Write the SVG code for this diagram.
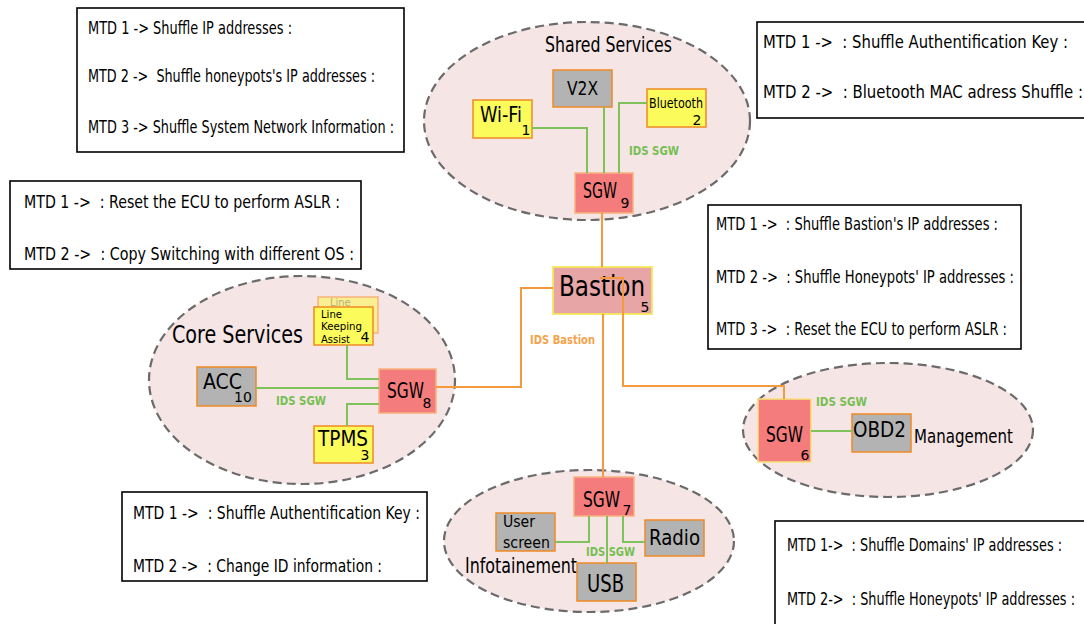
<svg xmlns="http://www.w3.org/2000/svg" width="1084" height="624" viewBox="0 0 1084 624" xml:space="preserve">
  <style>
    text { font-family: "DejaVu Sans Condensed", "DejaVu Sans", sans-serif; font-stretch: condensed; fill: #000; white-space: pre; }
    .zone { fill: #f5e5e5; stroke: #6b6b6b; stroke-width: 2.2; stroke-dasharray: 9 5; }
    .note { fill: #fff; stroke: #000; stroke-width: 1.6; }
    text.note-t { font-size: 17px; }
    .grey { fill: #b3b3b3; stroke: #f08a24; stroke-width: 1.5; }
    .yellow { fill: #fbfb5c; stroke: #f08a24; stroke-width: 1.5; }
    .sgw { fill: #f47c7c; stroke: #f7b27e; stroke-width: 1.5; }
    .sgw-y { fill: #f47c7c; stroke: #f7e27a; stroke-width: 1.5; }
    .bastion { fill: #e8a5a5; stroke: #f5e85a; stroke-width: 1.8; }
    .num { font-family: "DejaVu Sans", sans-serif; font-stretch: normal; font-size: 14px; text-anchor: middle; }
    .ids { font-size: 13px; font-weight: bold; fill: #76bf52; }
    .ids-b { font-size: 13px; font-weight: bold; fill: #f7a24a; }
    .link-g { fill: none; stroke: #7fc25b; stroke-width: 2; }
    .link-o { fill: none; stroke: #f59a3c; stroke-width: 2; }
  </style>

  <!-- MTD annotation boxes -->
  <g id="note-shared-ip">
    <rect class="note" x="77" y="8" width="327" height="144"/>
    <text class="note-t" x="88" y="34" textLength="204" lengthAdjust="spacingAndGlyphs">MTD 1 -&gt; Shuffle IP addresses :</text>
    <text class="note-t" x="88" y="82" textLength="287" lengthAdjust="spacingAndGlyphs">MTD 2 -&gt;  Shuffle honeypots's IP addresses :</text>
    <text class="note-t" x="88" y="133" textLength="306" lengthAdjust="spacingAndGlyphs">MTD 3 -&gt; Shuffle System Network Information :</text>
  </g>
  <g id="note-shared-bt">
    <rect class="note" x="757" y="22" width="340" height="96"/>
    <text class="note-t" x="763" y="48" textLength="305" lengthAdjust="spacingAndGlyphs">MTD 1 -&gt;  : Shuffle Authentification Key :</text>
    <text class="note-t" x="763" y="98" textLength="320" lengthAdjust="spacingAndGlyphs">MTD 2 -&gt;  : Bluetooth MAC adress Shuffle :</text>
  </g>
  <g id="note-core">
    <rect class="note" x="10" y="181" width="351" height="88"/>
    <text class="note-t" x="24" y="208" textLength="316" lengthAdjust="spacingAndGlyphs">MTD 1 -&gt;  : Reset the ECU to perform ASLR :</text>
    <text class="note-t" x="24" y="260" textLength="330" lengthAdjust="spacingAndGlyphs">MTD 2 -&gt;  : Copy Switching with different OS :</text>
  </g>
  <g id="note-bastion">
    <rect class="note" x="708" y="205" width="313" height="144"/>
    <text class="note-t" x="716" y="230" textLength="282" lengthAdjust="spacingAndGlyphs">MTD 1 -&gt;  : Shuffle Bastion's IP addresses :</text>
    <text class="note-t" x="716" y="283" textLength="298" lengthAdjust="spacingAndGlyphs">MTD 2 -&gt;  : Shuffle Honeypots' IP addresses :</text>
    <text class="note-t" x="716" y="335" textLength="291" lengthAdjust="spacingAndGlyphs">MTD 3 -&gt;  : Reset the ECU to perform ASLR :</text>
  </g>
  <g id="note-info">
    <rect class="note" x="122" y="492" width="305" height="89"/>
    <text class="note-t" x="133" y="519" textLength="287" lengthAdjust="spacingAndGlyphs">MTD 1 -&gt;  : Shuffle Authentification Key :</text>
    <text class="note-t" x="133" y="572" textLength="249" lengthAdjust="spacingAndGlyphs">MTD 2 -&gt;  : Change ID information :</text>
  </g>
  <g id="note-domains">
    <rect class="note" x="775" y="521" width="320" height="112"/>
    <text class="note-t" x="787" y="551" textLength="275" lengthAdjust="spacingAndGlyphs">MTD 1-&gt;  : Shuffle Domains' IP addresses :</text>
    <text class="note-t" x="787" y="605" textLength="288" lengthAdjust="spacingAndGlyphs">MTD 2-&gt;  : Shuffle Honeypots' IP addresses :</text>
  </g>

  <!-- Domains -->
  <g id="zone-shared">
    <ellipse class="zone" cx="587" cy="121" rx="163" ry="99"/>
    <text x="545" y="52" font-size="22" textLength="127" lengthAdjust="spacingAndGlyphs">Shared Services</text>
  </g>
  <g id="zone-core">
    <ellipse class="zone" cx="302" cy="380" rx="153" ry="104"/>
    <text x="172" y="343" font-size="25" textLength="131" lengthAdjust="spacingAndGlyphs">Core Services</text>
  </g>
  <g id="zone-management">
    <ellipse class="zone" cx="888" cy="430" rx="145" ry="67"/>
    <text x="914" y="443" font-size="19" textLength="99" lengthAdjust="spacingAndGlyphs">Management</text>
  </g>
  <g id="zone-info">
    <ellipse class="zone" cx="589" cy="541" rx="145" ry="71"/>
    <text x="465" y="573" font-size="22" textLength="112" lengthAdjust="spacingAndGlyphs">Infotainement</text>
  </g>

  <!-- Shared Services nodes -->
  <g id="v2x">
    <rect class="grey" x="553" y="70" width="59" height="37"/>
    <text x="567" y="95" font-size="20" textLength="31" lengthAdjust="spacingAndGlyphs">V2X</text>
  </g>
  <g id="wifi">
    <rect class="yellow" x="473" y="100" width="59" height="38"/>
    <text x="480" y="122" font-size="22" textLength="42" lengthAdjust="spacingAndGlyphs">Wi-Fi</text>
    <text class="num" x="526" y="135">1</text>
  </g>
  <g id="bluetooth">
    <rect class="yellow" x="647" y="89" width="59" height="38"/>
    <text x="649" y="108" font-size="14" textLength="54" lengthAdjust="spacingAndGlyphs">Bluetooth</text>
    <text class="num" x="697" y="125">2</text>
  </g>
  <g id="sgw9">
    <rect class="sgw" x="575" y="173" width="58" height="40"/>
    <text x="583" y="198" font-size="21" textLength="34" lengthAdjust="spacingAndGlyphs">SGW</text>
    <text class="num" x="625" y="208">9</text>
  </g>
  <text class="ids" x="629" y="155" textLength="50" lengthAdjust="spacingAndGlyphs">IDS SGW</text>

  <!-- Bastion -->
  <g id="bastion">
    <rect class="bastion" x="553" y="267" width="99" height="47"/>
    <text x="559" y="296" font-size="29" textLength="86" lengthAdjust="spacingAndGlyphs">Bastion</text>
    <text class="num" x="645" y="312" font-size="15">5</text>
  </g>
  <text class="ids-b" x="530" y="344" textLength="65" lengthAdjust="spacingAndGlyphs">IDS Bastion</text>

  <!-- Core Services nodes -->
  <g id="lka">
    <rect x="318" y="297" width="60" height="36" fill="#fbf36c" fill-opacity="0.7" stroke="#f7b27e" stroke-width="1.5"/>
    <text x="330" y="306" font-size="11" style="fill:#b9b07a">Line</text>
    <rect class="yellow" x="314" y="307" width="59" height="38"/>
    <text x="321" y="318" font-size="11" textLength="21" lengthAdjust="spacingAndGlyphs">Line</text>
    <text x="321" y="330" font-size="11" textLength="41" lengthAdjust="spacingAndGlyphs">Keeping</text>
    <text x="321" y="343" font-size="11" textLength="29" lengthAdjust="spacingAndGlyphs">Assist</text>
    <text class="num" x="365" y="342" font-size="13">4</text>
  </g>
  <g id="acc">
    <rect class="grey" x="197" y="367" width="59" height="39"/>
    <text x="203" y="389" font-size="22" textLength="39" lengthAdjust="spacingAndGlyphs">ACC</text>
    <text class="num" x="243" y="402">10</text>
  </g>
  <g id="sgw8">
    <rect class="sgw" x="379" y="369" width="57" height="44"/>
    <text x="387" y="398" font-size="21" textLength="37" lengthAdjust="spacingAndGlyphs">SGW</text>
    <text class="num" x="427" y="408">8</text>
  </g>
  <g id="tpms">
    <rect class="yellow" x="314" y="426" width="59" height="37"/>
    <text x="318" y="446" font-size="22" textLength="50" lengthAdjust="spacingAndGlyphs">TPMS</text>
    <text class="num" x="365" y="460">3</text>
  </g>
  <text class="ids" x="276" y="405" textLength="50" lengthAdjust="spacingAndGlyphs">IDS SGW</text>

  <!-- Management nodes -->
  <g id="sgw6">
    <rect class="sgw-y" x="758" y="399" width="53" height="63"/>
    <text x="766" y="442" font-size="21" textLength="37" lengthAdjust="spacingAndGlyphs">SGW</text>
    <text class="num" x="805" y="460">6</text>
  </g>
  <g id="obd2">
    <rect class="grey" x="852" y="414" width="59" height="38"/>
    <text x="853" y="437" font-size="22" textLength="53" lengthAdjust="spacingAndGlyphs">OBD2</text>
  </g>
  <text class="ids" x="816" y="406" textLength="51" lengthAdjust="spacingAndGlyphs">IDS SGW</text>

  <!-- Infotainment nodes -->
  <g id="sgw7">
    <rect class="sgw" x="574" y="477" width="60" height="39"/>
    <text x="583" y="507" font-size="21" textLength="37" lengthAdjust="spacingAndGlyphs">SGW</text>
    <text class="num" x="627" y="515">7</text>
  </g>
  <g id="user-screen">
    <rect class="grey" x="496" y="513" width="59" height="38"/>
    <text x="503" y="527" font-size="15" textLength="32" lengthAdjust="spacingAndGlyphs">User</text>
    <text x="503" y="548" font-size="15" textLength="47" lengthAdjust="spacingAndGlyphs">screen</text>
  </g>
  <g id="radio">
    <rect class="grey" x="645" y="520" width="59" height="36"/>
    <text x="649" y="545" font-size="22" textLength="51" lengthAdjust="spacingAndGlyphs">Radio</text>
  </g>
  <g id="usb">
    <rect class="grey" x="577" y="563" width="59" height="38"/>
    <text x="587" y="592" font-size="24" textLength="37" lengthAdjust="spacingAndGlyphs">USB</text>
  </g>
  <text class="ids" x="586" y="556" textLength="49" lengthAdjust="spacingAndGlyphs">IDS SGW</text>

  <!-- Connectors -->
  <g id="connectors">
    <polyline class="link-g" points="532,128 587,128 587,173"/>
    <polyline class="link-g" points="604,107 604,173"/>
    <polyline class="link-g" points="647,103 619,103 619,173"/>
    <polyline class="link-g" points="347,345 347,379 379,379"/>
    <polyline class="link-g" points="256,388 379,388"/>
    <polyline class="link-g" points="347,426 347,404 379,404"/>
    <polyline class="link-g" points="811,431 852,431"/>
    <polyline class="link-g" points="555,542 589,542 589,516"/>
    <polyline class="link-g" points="607,516 607,563"/>
    <polyline class="link-g" points="645,542 623,542 623,516"/>
    <polyline class="link-o" points="602,213 602,267"/>
    <polyline class="link-o" points="553,288 521,288 521,387 436,387"/>
    <polyline class="link-o" points="603,314 603,477"/>
    <polyline class="link-o" points="600,278 623,278 623,386 784,386 784,399"/>
  </g>
</svg>
